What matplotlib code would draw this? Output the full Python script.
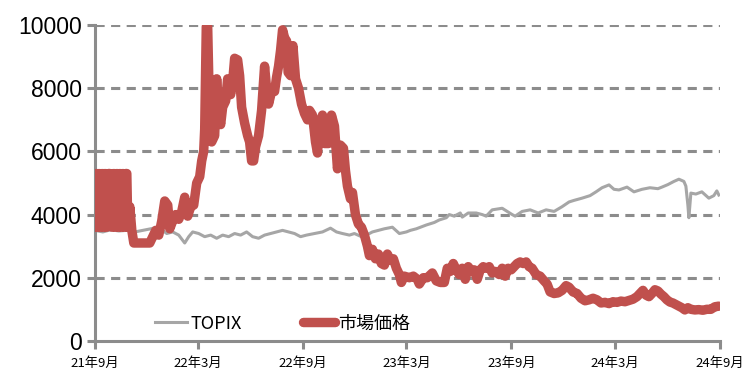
import numpy as np
import pandas as pd
import matplotlib
matplotlib.use('Agg')
import matplotlib.pyplot as plt

plt.rcParams['font.family'] = ['Noto Sans CJK JP', 'DejaVu Sans']

START = pd.Timestamp('2021-09-01')

# 市場価格: weeks from start, price
red_wk = [0, 0.4, 0.75, 1.1, 1.5, 1.9, 2.25, 2.6, 3.0, 3.4, 3.75, 4.25, 4.75, 5.1, 5.5, 5.9,
          6.25, 6.6, 7.0, 7.4, 7.75, 8.0, 8.25, 8.75, 9.25, 9.75, 11.25, 12.75, 13.75, 14.5,
          15.25, 16, 16.75, 17.5, 18.25, 18.75, 19.5, 20.25, 21, 21.75, 22.5, 23.25, 24, 24.75,
          25.5, 26.25, 26.75, 27.25, 27.5, 27.9, 28.25, 28.75, 29.25, 30, 30.5, 31, 31.5, 32,
          32.75, 33.25, 34, 34.5, 35, 35.75, 36.25, 36.75, 37.5, 38.25, 38.75, 39.25, 39.75,
          40.25, 41, 41.75, 42.5, 43, 43.5, 44.25, 45, 45.5, 46, 46.5, 47, 47.5, 48, 48.4, 49,
          49.6, 50.25, 51, 51.75, 52.5, 53.25, 53.75, 54.5, 55.25, 55.75, 56.25, 57, 57.5, 58.5,
          59.25, 60, 60.75, 61.5, 62.25, 62.75, 63.25, 64, 64.5, 65.25, 66, 66.75, 67.5, 68.25,
          68.75, 69.5, 70.25, 71, 71.75, 72.5, 73.25, 74, 74.75, 75.5, 76.25, 76.75, 77.5, 78.75,
          79.75, 80.75, 81.25, 82.25, 83.25, 84.5, 85.5, 86.5, 87.5, 88.25, 89, 89.75, 90.5,
          91.25, 92, 92.75, 93.5, 94.25, 95, 95.75, 96.5, 97.25, 98, 98.75, 99.5, 100.25,
          101.25, 102, 102.75, 103.5, 104.25, 105, 105.75, 106.5, 107.25, 108, 108.75, 109.5,
          110.5, 111.5, 112.5, 113.25, 114, 115, 116, 117, 118, 118.75, 119.75, 120.75, 121.75,
          122.75, 123.75, 124.75, 125.75, 126.75, 127.75, 128.75, 129.75, 130.75, 131.75,
          132.75, 133.75, 134.75, 135.75, 136.5, 137.25, 138, 138.75, 139.5, 140.25, 141,
          141.75, 142.5, 143.25, 144, 144.75, 145.5, 146.25, 147, 147.75, 148.5, 149.25,
          150.25, 151.25, 152.25, 153.25, 154.25, 155.25, 156.25]
red_val = [3600, 5300, 3600, 5300, 3600, 5300, 3600, 5300, 3600, 5300, 5300, 3600, 5300, 3600,
           5300, 3600, 5300, 3600, 5300, 3600, 5300, 5300, 3600, 4250, 3500, 3100, 3100, 3100,
           3100, 3300, 3500, 3350, 3800, 4430, 4300, 3550, 3800, 4000, 3850, 4100, 4550, 3950,
           4250, 4300, 5000, 5200, 5700, 6000, 6700, 9950, 9950, 7000, 6300, 6500, 8300, 7200,
           6850, 7400, 7600, 8300, 7800, 8200, 8950, 8900, 8400, 7400, 6900, 6500, 6300, 5700,
           5700, 6150, 6500, 7300, 8700, 8000, 7500, 7900, 7900, 8350, 8700, 9200, 9850, 9600,
           9500, 8500, 8400, 9350, 8300, 8000, 7500, 7200, 7000, 7300, 7150, 6300, 5950, 6800,
           7150, 6250, 6250, 7150, 6800, 5450, 6200, 6100, 5400, 4900, 4500, 4700, 4000, 3700,
           3600, 3350, 3000, 2700, 2900, 2600, 2750, 2450, 2400, 2750, 2550, 2600, 2300, 2100,
           1850, 2050, 2000, 2050, 1950, 1800, 2000, 2000, 2150, 1900, 1850, 1850, 2300, 2200,
           2450, 2250, 2100, 2300, 1950, 2350, 2200, 2250, 1950, 2250, 2350, 2300, 2350, 2150,
           2200, 2100, 2300, 2050, 2300, 2250, 2350, 2450, 2500, 2450, 2500, 2350, 2300, 2100,
           2050, 1900, 1800, 1550, 1500, 1520, 1600, 1750, 1700, 1550, 1500, 1350, 1270, 1300,
           1350, 1300, 1200, 1220, 1180, 1240, 1220, 1260, 1240, 1280, 1320, 1400, 1500, 1600,
           1450, 1400, 1500, 1620, 1580, 1480, 1400, 1300, 1230, 1200, 1150, 1100, 1050, 980,
           1050, 1000, 980, 990, 970, 1000, 1000, 1080, 1100]

# TOPIX (rescaled), weeks from start
topix_wk = [0, 2, 4, 6, 8, 10, 12, 14, 16, 17, 18, 19.5, 21, 22.5, 23.5, 24.5, 26, 27.5, 29,
            30.5, 32, 33.5, 35, 36.5, 38, 39.5, 41, 42.5, 44, 45.5, 47, 48.5, 50, 51.5, 53, 55,
            57, 59, 60.5, 62, 63.75, 65, 66.75, 68, 69.5, 71, 72.5, 74.5, 76.25, 78, 79, 80.5,
            83, 85, 86.25, 88, 88.75, 90, 91.5, 92, 93.5, 95.5, 97, 98, 99.5, 102, 104.5,
            105.25, 107, 109, 111, 113, 115, 117, 118.75, 120, 122, 124, 125.5, 127, 128.75,
            130, 131.25, 133.25, 135, 137, 139, 141, 142, 143.5, 145, 146.25, 147.5, 148,
            148.5, 148.75, 149.25, 150.5, 152, 153.75, 155, 155.75, 156.25]
topix_val = [3500, 3450, 3520, 3480, 3500, 3450, 3500, 3550, 3600, 3500, 3400, 3450, 3350,
             3100, 3300, 3450, 3400, 3300, 3350, 3250, 3350, 3300, 3400, 3350, 3450, 3300,
             3250, 3350, 3400, 3450, 3500, 3450, 3400, 3300, 3350, 3400, 3450, 3570, 3450,
             3400, 3350, 3400, 3300, 3350, 3450, 3500, 3550, 3600, 3400, 3450, 3500, 3550,
             3670, 3750, 3830, 3900, 4000, 3950, 4050, 3920, 4050, 4050, 4000, 3950, 4150,
             4200, 4000, 3950, 4100, 4150, 4050, 4150, 4100, 4250, 4400, 4450, 4520, 4600,
             4720, 4850, 4940, 4800, 4780, 4870, 4720, 4800, 4850, 4820, 4870, 4950, 5050,
             5120, 5050, 4900, 4300, 3900, 4680, 4650, 4720, 4520, 4600, 4750, 4620]

tick_dates = ['2021-09-01', '2022-03-01', '2022-09-01', '2023-03-01',
              '2023-09-01', '2024-03-01', '2024-09-01']
tick_labels = ['21年9月', '22年3月', '22年9月', '23年3月', '23年9月', '24年3月', '24年9月']
y_ticks = [0, 2000, 4000, 6000, 8000, 10000]


def to_dates(weeks):
    return START + pd.to_timedelta(np.asarray(weeks) * 7, unit='D')


fig = plt.figure(figsize=(7.47, 3.75), dpi=100)
ax = fig.add_axes([0.127, 0.091, 0.837, 0.842])

grid_c = '#8c8c8c'
for v in y_ticks[1:]:
    ax.axhline(v, color=grid_c, lw=2.2, ls=(0, (3, 2.1)), zorder=1)

ax.plot(to_dates(topix_wk), topix_val, color='#a6a6a6', lw=2.2, label='TOPIX', zorder=2)
ax.plot(to_dates(red_wk), red_val, color='#c0504d', lw=6.8, solid_joinstyle='round',
        solid_capstyle='round', label='市場価格', zorder=3)

ax.set_xlim(pd.Timestamp(tick_dates[0]), pd.Timestamp(tick_dates[-1]))
ax.set_ylim(0, 10000)
ax.set_xticks(pd.to_datetime(tick_dates))
ax.set_xticklabels(tick_labels, fontsize=9.5)
ax.set_yticks(y_ticks)
ax.set_yticklabels([str(v) for v in y_ticks], fontsize=16.5, family='Liberation Sans')

for s in ['top', 'right']:
    ax.spines[s].set_visible(False)
for s in ['left', 'bottom']:
    ax.spines[s].set_color(grid_c)
    ax.spines[s].set_linewidth(2.2)
ax.tick_params(axis='both', color=grid_c, width=2.2, length=5.5)
ax.tick_params(axis='y', pad=4)
ax.tick_params(axis='x', pad=6)

ax.legend(loc='lower center', bbox_to_anchor=(0.3, -0.025), ncol=2, frameon=False,
          fontsize=13, handlelength=1.8, columnspacing=3.4, handletextpad=0.15)

plt.savefig('out.png', dpi=100)
plt.close()
